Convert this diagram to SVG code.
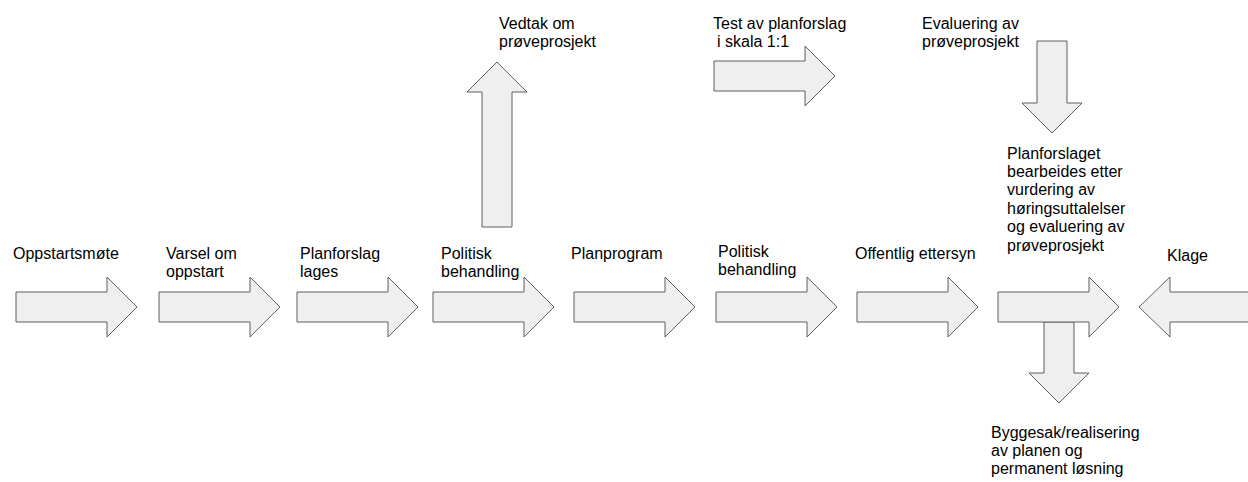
<svg xmlns="http://www.w3.org/2000/svg" width="1248" height="482" viewBox="0 0 1248 482">
<style>
.arw{fill:#efefef;stroke:#5f5f5f;stroke-width:1;stroke-linejoin:miter}
text{font-family:"Liberation Sans",Arial,sans-serif;font-size:16px;fill:#000}
</style>
<defs>
<polygon id="hr" points="0,-15 91,-15 91,-30 121,0 91,30 91,15 0,15"/>
</defs>
<rect width="1248" height="482" fill="#fff"/>
<g id="connectors">
<polygon class="arw" points="1044,322 1074,322 1074,373 1089,373 1059,403 1029,373 1044,373"/>
<use href="#hr" class="arw" x="16" y="307"/>
<use href="#hr" class="arw" x="159" y="307"/>
<use href="#hr" class="arw" x="297" y="307"/>
<use href="#hr" class="arw" x="433" y="307"/>
<use href="#hr" class="arw" x="574" y="307"/>
<use href="#hr" class="arw" x="716" y="307"/>
<use href="#hr" class="arw" x="857" y="307"/>
<use href="#hr" class="arw" x="998" y="307"/>
<polygon class="arw" points="1260,292 1170,292 1170,277 1139,307 1170,337 1170,322 1260,322"/>
<polygon class="arw" points="482,227 512,227 512,92 527,92 497,62 467,92 482,92"/>
<use href="#hr" class="arw" x="714" y="76"/>
<polygon class="arw" points="1037,41 1067,41 1067,103 1082,103 1052,133 1022,103 1037,103"/>
</g>
<g id="n1"><text x="13" y="258.5">Oppstartsmøte</text></g>
<g id="n2"><text x="166" y="258.5">Varsel om</text><text x="166" y="276.9">oppstart</text></g>
<g id="n3"><text x="300" y="258.5">Planforslag</text><text x="300" y="276.9">lages</text></g>
<g id="n4"><text x="441" y="258.5">Politisk</text><text x="441" y="276.9">behandling</text></g>
<g id="n5"><text x="571" y="258.5">Planprogram</text></g>
<g id="n6"><text x="718" y="257">Politisk</text><text x="718" y="275.4">behandling</text></g>
<g id="n7"><text x="855" y="258.5">Offentlig ettersyn</text></g>
<g id="n8"><text x="1007" y="158.5">Planforslaget</text><text x="1007" y="176.9">bearbeides etter</text><text x="1007" y="195.3">vurdering av</text><text x="1007" y="213.7">høringsuttalelser</text><text x="1007" y="232.1">og evaluering av</text><text x="1007" y="250.5">prøveprosjekt</text></g>
<g id="n9"><text x="1167" y="261">Klage</text></g>
<g id="n10"><text x="499" y="29">Vedtak om</text><text x="499" y="47.4">prøveprosjekt</text></g>
<g id="n11"><text x="713" y="29">Test av planforslag</text><text x="717" y="47.4">i skala 1:1</text></g>
<g id="n12"><text x="922" y="29">Evaluering av</text><text x="922" y="47.4">prøveprosjekt</text></g>
<g id="n13"><text x="991" y="437.5">Byggesak/realisering</text><text x="991" y="455.9">av planen og</text><text x="991" y="474.3">permanent løsning</text></g>
</svg>
